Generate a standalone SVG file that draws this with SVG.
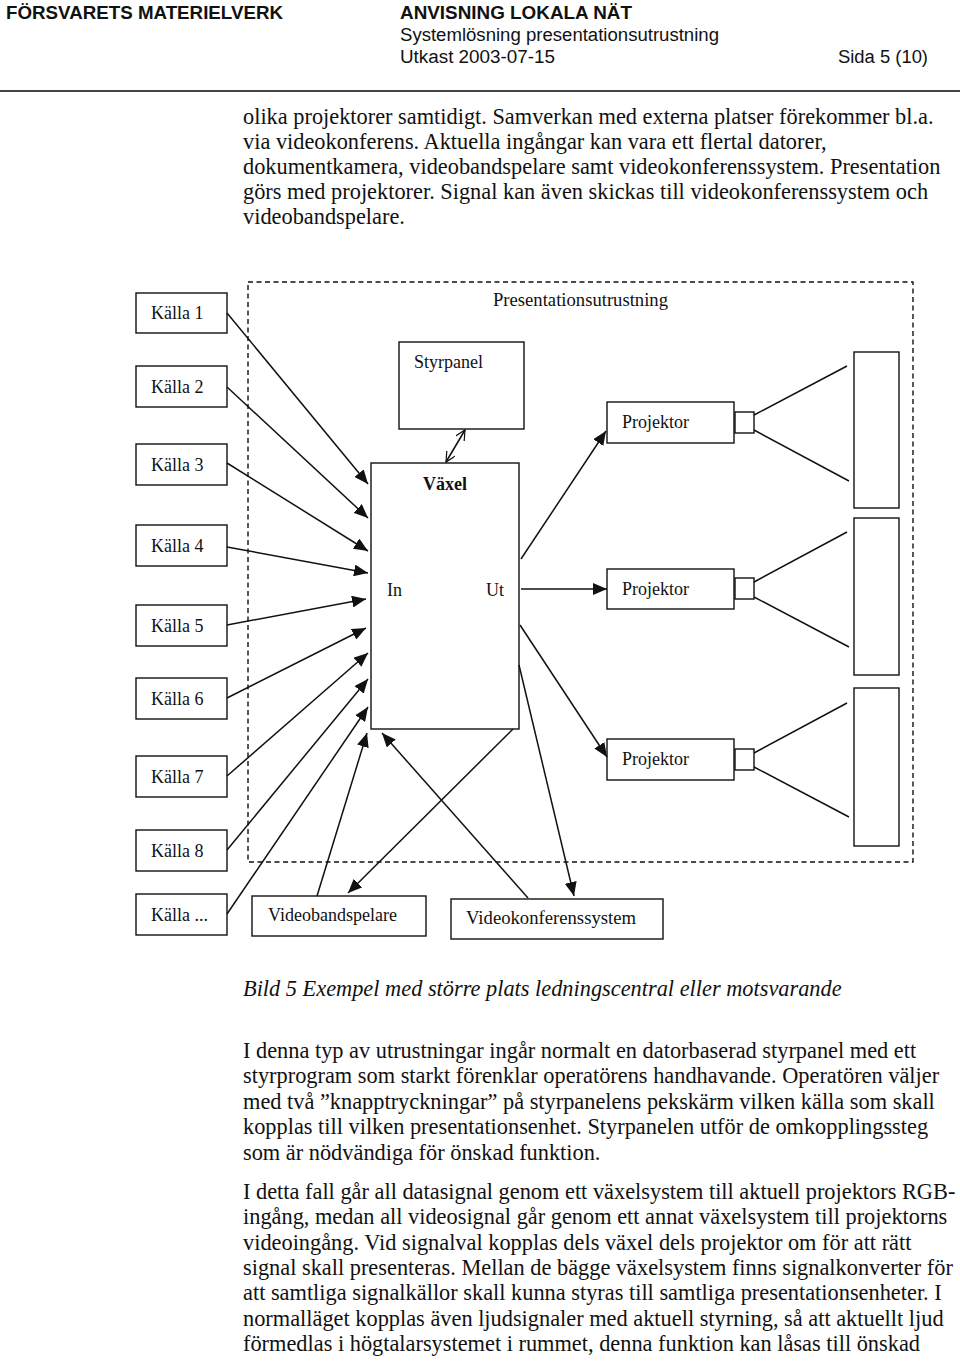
<svg xmlns="http://www.w3.org/2000/svg" width="960" height="1361" viewBox="0 0 960 1361">
<defs>
<marker id="ah" markerUnits="userSpaceOnUse" markerWidth="14" markerHeight="12" refX="14" refY="6" orient="auto"><path d="M0,0 L14,6 L0,12 z" fill="#111"/></marker>
<marker id="oa" markerUnits="userSpaceOnUse" markerWidth="12" markerHeight="12" refX="10" refY="5" orient="auto-start-reverse"><path d="M0,0 L10,5 L0,10" fill="none" stroke="#111" stroke-width="1.2"/></marker>
<style>
.hb{font-family:"Liberation Sans",Arial,sans-serif;font-weight:bold;font-size:18.5px;fill:#111}
.hr{font-family:"Liberation Sans",Arial,sans-serif;font-size:18px;fill:#111}
.b{font-family:"Liberation Serif","Times New Roman",serif;font-size:22.35px;fill:#111}
.cap{font-family:"Liberation Serif","Times New Roman",serif;font-size:22.35px;font-style:italic;fill:#111}
.l{font-family:"Liberation Serif","Times New Roman",serif;font-size:18px;fill:#111}
.lb{font-family:"Liberation Serif","Times New Roman",serif;font-size:18px;font-weight:bold;fill:#111}
.box{fill:#fff;stroke:#111;stroke-width:1.4}
.ln{stroke:#111;stroke-width:1.5;fill:none}
.dash{fill:none;stroke:#111;stroke-width:1.4;stroke-dasharray:5,3.5}
</style>
</defs>
<rect width="960" height="1361" fill="#fff"/>
<g id="header">
<text class="hb" x="6" y="19" textLength="277" lengthAdjust="spacingAndGlyphs">FÖRSVARETS MATERIELVERK</text>
<text class="hb" x="400" y="19" textLength="232" lengthAdjust="spacingAndGlyphs">ANVISNING LOKALA NÄT</text>
<text class="hr" x="400" y="41" textLength="319" lengthAdjust="spacingAndGlyphs">Systemlösning presentationsutrustning</text>
<text class="hr" x="400" y="63" textLength="155" lengthAdjust="spacingAndGlyphs">Utkast 2003-07-15</text>
<text class="hr" x="838" y="63" textLength="90" lengthAdjust="spacingAndGlyphs">Sida 5 (10)</text>
<line x1="0" y1="91" x2="960" y2="91" stroke="#444" stroke-width="2"/>
</g>
<g id="intro-text">
<text class="b" x="243" y="124">olika projektorer samtidigt. Samverkan med externa platser förekommer bl.a.</text>
<text class="b" x="243" y="149">via videokonferens. Aktuella ingångar kan vara ett flertal datorer,</text>
<text class="b" x="243" y="174">dokumentkamera, videobandspelare samt videokonferenssystem. Presentation</text>
<text class="b" x="243" y="199">görs med projektorer. Signal kan även skickas till videokonferenssystem och</text>
<text class="b" x="243" y="224">videobandspelare.</text>
</g>
<g id="presentationsutrustning">
<rect class="dash" x="248" y="282" width="665" height="580"/>
<text class="l" x="493" y="306" textLength="175" lengthAdjust="spacingAndGlyphs">Presentationsutrustning</text>
</g>
<g id="kalla1"><rect class="box" x="136" y="293" width="91" height="40"/><text class="l" x="151" y="319">Källa 1</text></g>
<g id="kalla2"><rect class="box" x="136" y="366" width="91" height="41"/><text class="l" x="151" y="393">Källa 2</text></g>
<g id="kalla3"><rect class="box" x="136" y="444" width="91" height="41"/><text class="l" x="151" y="471">Källa 3</text></g>
<g id="kalla4"><rect class="box" x="136" y="525" width="91" height="41"/><text class="l" x="151" y="552">Källa 4</text></g>
<g id="kalla5"><rect class="box" x="136" y="605" width="91" height="41"/><text class="l" x="151" y="632">Källa 5</text></g>
<g id="kalla6"><rect class="box" x="136" y="678" width="91" height="41"/><text class="l" x="151" y="705">Källa 6</text></g>
<g id="kalla7"><rect class="box" x="136" y="756" width="91" height="41"/><text class="l" x="151" y="783">Källa 7</text></g>
<g id="kalla8"><rect class="box" x="136" y="830" width="91" height="41"/><text class="l" x="151" y="857">Källa 8</text></g>
<g id="kallaN"><rect class="box" x="136" y="894" width="91" height="41"/><text class="l" x="151" y="921">Källa ...</text></g>
<g id="styrpanel"><rect class="box" x="399" y="342" width="125" height="87"/><text class="l" x="414" y="368">Styrpanel</text></g>
<g id="vaxel"><rect class="box" x="371" y="463" width="148" height="266"/><text class="lb" x="423" y="490">Växel</text><text class="l" x="387" y="596">In</text><text class="l" x="486" y="596">Ut</text></g>
<g id="projektor1"><rect class="box" x="607" y="402" width="127" height="41"/><text class="l" x="622" y="428">Projektor</text><rect class="box" x="735" y="412" width="19" height="21"/><line class="ln" x1="754" y1="415" x2="847" y2="366"/><line class="ln" x1="754" y1="430" x2="849" y2="481"/><rect class="box" x="854" y="352" width="45" height="156"/></g>
<g id="projektor2"><rect class="box" x="607" y="569" width="127" height="40"/><text class="l" x="622" y="595">Projektor</text><rect class="box" x="735" y="578" width="19" height="21"/><line class="ln" x1="754" y1="582" x2="847" y2="532"/><line class="ln" x1="754" y1="597" x2="849" y2="647"/><rect class="box" x="854" y="518" width="45" height="157"/></g>
<g id="projektor3"><rect class="box" x="607" y="739" width="127" height="41"/><text class="l" x="622" y="765">Projektor</text><rect class="box" x="735" y="749" width="19" height="21"/><line class="ln" x1="754" y1="753" x2="847" y2="703"/><line class="ln" x1="754" y1="767" x2="849" y2="817"/><rect class="box" x="854" y="688" width="45" height="158"/></g>
<g id="videobandspelare"><rect class="box" x="252" y="896" width="174" height="40"/><text class="l" x="268" y="921">Videobandspelare</text></g>
<g id="videokonferenssystem"><rect class="box" x="451" y="899" width="212" height="40"/><text class="l" x="466" y="924" textLength="170" lengthAdjust="spacingAndGlyphs">Videokonferenssystem</text></g>
<g id="connectors">
<line class="ln" x1="465" y1="430" x2="446" y2="462" marker-start="url(#oa)" marker-end="url(#oa)" stroke-width="1.2"/>
<line class="ln" x1="227" y1="313" x2="368" y2="484" marker-end="url(#ah)"/>
<line class="ln" x1="227" y1="387" x2="368" y2="518" marker-end="url(#ah)"/>
<line class="ln" x1="227" y1="463" x2="368" y2="551" marker-end="url(#ah)"/>
<line class="ln" x1="227" y1="547" x2="368" y2="573" marker-end="url(#ah)"/>
<line class="ln" x1="227" y1="625" x2="366" y2="599" marker-end="url(#ah)"/>
<line class="ln" x1="227" y1="698" x2="366" y2="628" marker-end="url(#ah)"/>
<line class="ln" x1="227" y1="776" x2="368" y2="653" marker-end="url(#ah)"/>
<line class="ln" x1="227" y1="850" x2="368" y2="679" marker-end="url(#ah)"/>
<line class="ln" x1="227" y1="914" x2="368" y2="707" marker-end="url(#ah)"/>
<line class="ln" x1="317" y1="896" x2="367" y2="733" marker-end="url(#ah)"/>
<line class="ln" x1="528" y1="898" x2="382" y2="733" marker-end="url(#ah)"/>
<line class="ln" x1="513" y1="729" x2="348" y2="893" marker-end="url(#ah)"/>
<line class="ln" x1="519" y1="665" x2="574" y2="896" marker-end="url(#ah)"/>
<line class="ln" x1="521" y1="559" x2="606" y2="431" marker-end="url(#ah)"/>
<line class="ln" x1="521" y1="589" x2="607" y2="589" marker-end="url(#ah)"/>
<line class="ln" x1="520" y1="625" x2="607" y2="757" marker-end="url(#ah)"/>
</g>
<g id="caption">
<text class="cap" x="243" y="996">Bild 5 Exempel med större plats ledningscentral eller motsvarande</text>
</g>
<g id="body-text">
<text class="b" x="243" y="1058">I denna typ av utrustningar ingår normalt en datorbaserad styrpanel med ett</text>
<text class="b" x="243" y="1083">styrprogram som starkt förenklar operatörens handhavande. Operatören väljer</text>
<text class="b" x="243" y="1109">med två ”knapptryckningar” på styrpanelens pekskärm vilken källa som skall</text>
<text class="b" x="243" y="1134">kopplas till vilken presentationsenhet. Styrpanelen utför de omkopplingssteg</text>
<text class="b" x="243" y="1160">som är nödvändiga för önskad funktion.</text>
<text class="b" x="243" y="1199">I detta fall går all datasignal genom ett växelsystem till aktuell projektors RGB-</text>
<text class="b" x="243" y="1224">ingång, medan all videosignal går genom ett annat växelsystem till projektorns</text>
<text class="b" x="243" y="1250">videoingång. Vid signalval kopplas dels växel dels projektor om för att rätt</text>
<text class="b" x="243" y="1275">signal skall presenteras. Mellan de bägge växelsystem finns signalkonverter för</text>
<text class="b" x="243" y="1300">att samtliga signalkällor skall kunna styras till samtliga presentationsenheter. I</text>
<text class="b" x="243" y="1326">normalläget kopplas även ljudsignaler med aktuell styrning, så att aktuellt ljud</text>
<text class="b" x="243" y="1351">förmedlas i högtalarsystemet i rummet, denna funktion kan låsas till önskad</text>
</g>
</svg>
